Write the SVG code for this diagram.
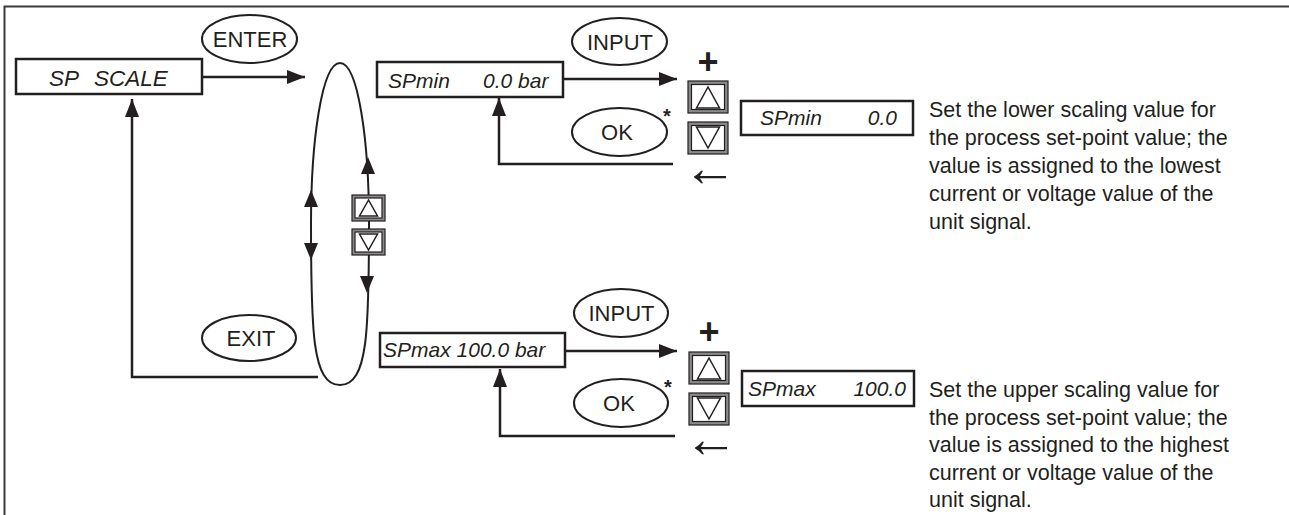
<svg xmlns="http://www.w3.org/2000/svg" width="1289" height="515" viewBox="0 0 1289 515">
<style>
text{font-family:"Liberation Sans",Arial,sans-serif;fill:#231f20}
.box{fill:#fff;stroke:#231f20;stroke-width:2.5}
.it{font-style:italic;font-size:21px}
.lbl{font-size:22px;text-anchor:middle}
.ell{fill:#fff;stroke:#231f20;stroke-width:2}
.ln{fill:none;stroke:#231f20;stroke-width:2.5}
.loop{fill:none;stroke:#231f20;stroke-width:2}
.bo{fill:#8a8a8a;stroke:#231f20;stroke-width:1.2}
.bi{fill:#fff;stroke:#231f20;stroke-width:1.2}
.tri{fill:#fff;stroke:#231f20;stroke-width:1.5;stroke-linejoin:miter}
.ah{fill:#231f20}
.desc{font-size:21.5px}
.plus{font-size:36px;font-weight:bold;text-anchor:middle}
.larr{font-size:54px;text-anchor:middle}
.ast{font-size:20px;font-weight:bold;text-anchor:middle}
</style>
<defs>
<marker id="arr" markerUnits="userSpaceOnUse" markerWidth="18" markerHeight="14" refX="18" refY="7" orient="auto">
<path d="M0,0 L18,7 L0,14 Z" fill="#231f20"/>
</marker>
</defs>

<path d="M4.5,515 V6.5 H1289" fill="none" stroke="#3a3a3a" stroke-width="2"/>

<g id="connectors">
<path class="ln" d="M202,77 H305" marker-end="url(#arr)"/>
<path class="ln" d="M563,79 H677" marker-end="url(#arr)"/>
<path class="ln" d="M673,164 H499 V98" marker-end="url(#arr)"/>
<path class="ln" d="M565,351 H677" marker-end="url(#arr)"/>
<path class="ln" d="M675,436 H500 V369" marker-end="url(#arr)"/>
<path class="ln" d="M318,377 H132 V99" marker-end="url(#arr)"/>
</g>

<g id="loop">
<path class="loop" d="M340,63 C358,63 369,140 369,224 C369,330 368,385 340,385 C312,385 311,330 311,224 C311,140 322,63 340,63 Z"/>
<polygon class="ah" points="368,157 361,174 375,174"/>
<polygon class="ah" points="367,293 360,276 374,276"/>
<polygon class="ah" points="311,190 304,207 318,207"/>
<polygon class="ah" points="311,260 304,243 318,243"/>
</g>

<g id="loop-up">
<rect class="bo" x="352" y="195" width="33" height="26"/>
<rect class="bi" x="355" y="198" width="27" height="20"/>
<polygon class="tri" points="368.5,200 359.5,216 377.5,216"/>
</g>
<g id="loop-down">
<rect class="bo" x="352" y="229" width="33" height="26"/>
<rect class="bi" x="355" y="232" width="27" height="20"/>
<polygon class="tri" points="359.5,234 377.5,234 368.5,250"/>
</g>

<g id="sp-scale">
<rect class="box" x="16" y="59" width="186" height="35"/>
<text class="it" x="49" y="86" style="font-size:22.5px">SP</text>
<text class="it" x="94" y="86" style="font-size:22.5px">SCALE</text>
</g>

<g id="enter">
<ellipse class="ell" cx="249.5" cy="39" rx="47.5" ry="24"/>
<text class="lbl" x="250" y="47">ENTER</text>
</g>

<g id="exit">
<ellipse class="ell" cx="249" cy="338" rx="47" ry="23"/>
<text class="lbl" x="251" y="346">EXIT</text>
</g>

<g id="spmin-bar">
<rect class="box" x="377" y="62" width="186" height="35"/>
<text class="it" x="388" y="88">SPmin</text>
<text class="it" x="483" y="88">0.0 bar</text>
</g>

<g id="input1">
<ellipse class="ell" cx="619.5" cy="41.5" rx="47.5" ry="23.5"/>
<text class="lbl" x="620" y="49.5">INPUT</text>
</g>

<g id="ok1">
<ellipse class="ell" cx="619.5" cy="132" rx="47.5" ry="24"/>
<text class="lbl" x="617" y="140">OK</text>
<text class="ast" x="667" y="123">*</text>
</g>

<g id="keys1">
<text class="plus" x="708" y="74">+</text>
<rect class="bo" x="688" y="81" width="40" height="32"/>
<rect class="bi" x="691.5" y="84.5" width="33" height="25"/>
<polygon class="tri" points="708,87 696.5,108 719.5,108"/>
<rect class="bo" x="688" y="122" width="40" height="32"/>
<rect class="bi" x="691.5" y="125.5" width="33" height="25"/>
<polygon class="tri" points="696.5,127 719.5,127 708,148"/>
<text class="larr" x="710" y="186">←</text>
</g>

<g id="spmin-val">
<rect class="box" x="741" y="101" width="172" height="34"/>
<text class="it" x="760" y="125">SPmin</text>
<text class="it" x="897" y="125" text-anchor="end">0.0</text>
</g>

<g id="desc1">
<text class="desc" x="929" y="117">Set the lower scaling value for</text>
<text class="desc" x="929" y="145">the process set-point value; the</text>
<text class="desc" x="929" y="173">value is assigned to the lowest</text>
<text class="desc" x="929" y="201">current or voltage value of the</text>
<text class="desc" x="929" y="229">unit signal.</text>
</g>

<g id="spmax-bar">
<rect class="box" x="380" y="333" width="185" height="34"/>
<text class="it" x="383" y="357">SPmax 100.0 bar</text>
</g>

<g id="input2">
<ellipse class="ell" cx="621" cy="313" rx="47" ry="24"/>
<text class="lbl" x="621.5" y="321">INPUT</text>
</g>

<g id="ok2">
<ellipse class="ell" cx="621" cy="403" rx="47" ry="24"/>
<text class="lbl" x="619" y="411">OK</text>
<text class="ast" x="668" y="394">*</text>
</g>

<g id="keys2">
<text class="plus" x="709" y="344">+</text>
<rect class="bo" x="689" y="352" width="40" height="32"/>
<rect class="bi" x="692.5" y="355.5" width="33" height="25"/>
<polygon class="tri" points="709,358 697.5,379 720.5,379"/>
<rect class="bo" x="689" y="393" width="40" height="32"/>
<rect class="bi" x="692.5" y="396.5" width="33" height="25"/>
<polygon class="tri" points="697.5,398 720.5,398 709,419"/>
<text class="larr" x="711" y="457">←</text>
</g>

<g id="spmax-val">
<rect class="box" x="742" y="371" width="172" height="35"/>
<text class="it" x="748" y="396">SPmax</text>
<text class="it" x="906" y="396" text-anchor="end">100.0</text>
</g>

<g id="desc2">
<text class="desc" x="929" y="397">Set the upper scaling value for</text>
<text class="desc" x="929" y="424.5">the process set-point value; the</text>
<text class="desc" x="929" y="452">value is assigned to the highest</text>
<text class="desc" x="929" y="479.5">current or voltage value of the</text>
<text class="desc" x="929" y="507">unit signal.</text>
</g>
</svg>
